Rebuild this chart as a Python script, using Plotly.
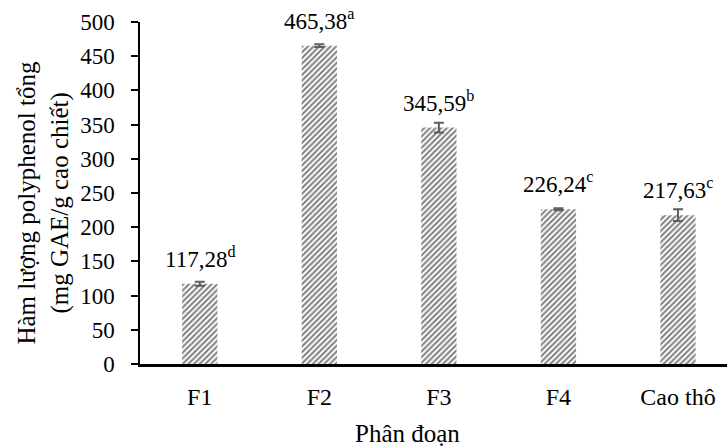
import plotly.graph_objects as go

categories = ["F1", "F2", "F3", "F4", "Cao thô"]
values = [117.28, 465.38, 345.59, 226.24, 217.63]
errors = [3.0, 2.0, 7.0, 1.5, 8.5]
letters = ["d", "a", "b", "c", "c"]
value_texts = ["117,28", "465,38", "345,59", "226,24", "217,63"]
y_ticks = [0, 50, 100, 150, 200, 250, 300, 350, 400, 450, 500]
y_title_lines = ["Hàm lượng polyphenol tổng", "(mg GAE/g cao chiết)"]
x_title = "Phân đoạn"

FONT = "Liberation Serif"

fig = go.Figure()
fig.add_trace(go.Bar(
    x=list(range(len(categories))),
    y=values,
    width=0.295,
    marker=dict(
        color="white",
        line=dict(width=0),
        pattern=dict(shape="/", size=4, solidity=0.5, fgcolor="black", bgcolor="white"),
    ),
    error_y=dict(type="data", array=errors, visible=True, color="#5f5f5f", thickness=2, width=5),
    hoverinfo="skip",
))

annotations = []
for i, (v, t, l) in enumerate(zip(values, value_texts, letters)):
    annotations.append(dict(
        x=i, y=v, xref="x", yref="y", text=f"{t}<sup>{l}</sup>",
        showarrow=False, xanchor="center", yanchor="bottom", yshift=10,
        font=dict(family=FONT, size=23, color="black"),
    ))

for line, shift in zip(y_title_lines, [-113, -80]):
    annotations.append(dict(
        x=0, y=0.469, xref="paper", yref="paper", xshift=shift,
        text=line, textangle=-90, showarrow=False,
        xanchor="center", yanchor="middle",
        font=dict(family=FONT, size=25, color="black"),
    ))
annotations.append(dict(
    x=0.4557, y=-0.2018, xref="paper", yref="paper",
    text=x_title, showarrow=False, xanchor="center", yanchor="middle",
    font=dict(family=FONT, size=25, color="black"),
))

fig.update_layout(
    width=727, height=447,
    margin=dict(l=140, r=0, t=22, b=83, pad=0),
    paper_bgcolor="white", plot_bgcolor="white",
    showlegend=False,
    font=dict(family=FONT, size=23, color="black"),
    annotations=annotations,
    xaxis=dict(
        tickmode="array", tickvals=list(range(len(categories))), ticktext=categories,
        range=[-0.5, 4.41], showgrid=False, zeroline=False,
        showline=True, linecolor="black", linewidth=2.5,
        ticks="", ticklabelstandoff=9,
        tickfont=dict(family=FONT, size=24, color="black"),
    ),
    yaxis=dict(
        range=[0, 500], tickmode="array", tickvals=y_ticks,
        showgrid=False, zeroline=False,
        showline=True, linecolor="black", linewidth=1.5,
        ticks="outside", ticklen=7, tickwidth=1.5, tickcolor="black",
        ticklabelstandoff=12,
        tickfont=dict(family=FONT, size=23, color="black"),
    ),
)

fig.write_html(
    "out.html",
    config={"displayModeBar": False},
    post_script="document.body.style.margin='0px';document.body.style.padding='0px';",
)
